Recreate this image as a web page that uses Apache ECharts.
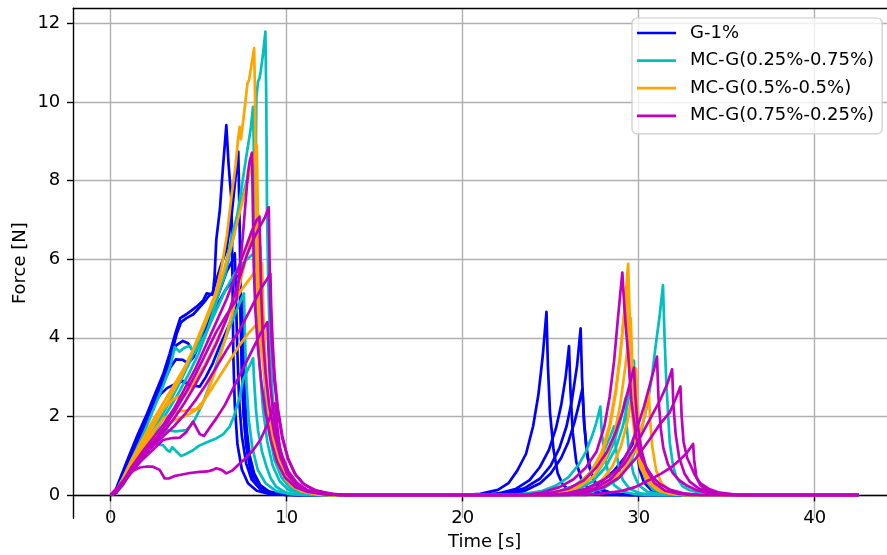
<!DOCTYPE html>
<html><head><meta charset="utf-8">
<script src="https://cdn.jsdelivr.net/npm/echarts@6/dist/echarts.min.js"></script>
<style>html,body{margin:0;padding:0;background:#fff}#c{width:887px;height:555px}</style>
</head><body><div id="c"></div>
<script>
// ---------- data ----------
const X_TICKS = [0, 10, 20, 30, 40];
const Y_TICKS = [0, 2, 4, 6, 8, 10, 12];
const END_T = 42.5;
const GROUP_NAMES = ['G-1%', 'MC-G(0.25%-0.75%)', 'MC-G(0.5%-0.5%)', 'MC-G(0.75%-0.25%)'];

// G-1% (blue)
const b1p1 = [[0,0],[0.3,0.15],[0.6,0.5],[1.0,0.95],[1.5,1.5],[2.0,2.0],[2.5,2.55],[3.0,3.1],[3.35,3.6],[3.7,4.15],[3.95,4.5],[4.3,4.6],[4.6,4.7],[4.9,4.8],[5.25,4.95],[5.45,5.13],[5.8,5.1],[5.9,5.55],[6.0,6.5],[6.2,7.25],[6.38,8.35],[6.57,9.41],[6.7,8.4],[6.86,7.5],[6.92,5.5],[6.97,3.5],[7.05,2.3],[7.2,1.3],[7.45,0.65],[7.8,0.3],[8.3,0.11],[9.0,0.03],[10,0]];
const b1p2 = [[20,0],[21,0.03],[22,0.13],[22.6,0.3],[23.1,0.62],[23.6,1.05],[24.0,1.75],[24.3,2.55],[24.55,3.55],[24.76,4.66],[24.84,3.3],[24.96,2.1],[25.16,1.15],[25.4,0.55],[25.7,0.25],[26.2,0.09],[27,0.02],[28,0]];
const b2p1 = [[0,0],[0.3,0.13],[0.6,0.45],[1.0,0.88],[1.5,1.4],[2.0,1.92],[2.5,2.45],[3.0,3.0],[3.4,3.5],[3.75,4.1],[4.0,4.4],[4.3,4.5],[4.7,4.6],[5.0,4.75],[5.3,4.9],[5.55,5.05],[5.8,5.15],[6.0,5.47],[6.3,5.9],[6.57,6.23],[6.86,7.08],[7.05,7.9],[7.25,8.74],[7.32,7.0],[7.38,5.2],[7.45,3.4],[7.55,2.1],[7.7,1.25],[7.95,0.6],[8.3,0.25],[8.8,0.09],[9.5,0.02],[10.5,0]];
const b2p2 = [[21.5,0],[22.5,0.05],[23.5,0.17],[24.4,0.42],[25.0,0.75],[25.5,1.2],[25.9,1.75],[26.2,2.4],[26.5,3.3],[26.7,4.24],[26.78,3.0],[26.9,1.8],[27.1,0.95],[27.4,0.42],[27.8,0.16],[28.5,0.04],[29.5,0]];
const b3p1 = [[0,0],[0.3,0.12],[0.6,0.42],[1.0,0.82],[1.5,1.3],[2.0,1.85],[2.5,2.4],[3.0,2.95],[3.35,3.4],[3.7,3.8],[4.1,3.92],[4.4,3.86],[4.68,3.65],[5.0,3.85],[5.4,4.2],[5.8,4.7],[6.2,5.2],[6.6,5.7],[6.9,5.95],[7.05,6.15],[7.12,5.0],[7.2,3.6],[7.3,2.4],[7.45,1.5],[7.7,0.8],[8.0,0.4],[8.5,0.15],[9.2,0.04],[10,0]];
const b3p2 = [[21,0],[22,0.04],[23,0.15],[23.8,0.38],[24.4,0.72],[24.9,1.15],[25.3,1.7],[25.6,2.3],[25.85,3.0],[26.04,3.79],[26.12,2.7],[26.25,1.6],[26.45,0.85],[26.75,0.38],[27.2,0.13],[28,0.03],[29,0]];
const b4p1 = [[0,0],[0.3,0.1],[0.6,0.35],[1.0,0.7],[1.5,1.2],[2.0,1.75],[2.4,2.25],[2.8,2.55],[3.2,2.72],[3.73,2.84],[4.1,2.9],[4.5,2.8],[5.06,2.76],[5.4,3.0],[5.8,3.35],[6.2,3.8],[6.6,4.2],[7.0,4.6],[7.3,4.85],[7.48,4.96],[7.55,3.8],[7.62,2.6],[7.72,1.7],[7.9,1.0],[8.15,0.55],[8.5,0.25],[9.0,0.09],[9.8,0.02],[10.8,0]];
const b4p2 = [[21.5,0],[22.5,0.03],[23.5,0.1],[24.4,0.3],[25.0,0.55],[25.6,0.95],[26.0,1.35],[26.35,1.85],[26.6,2.3],[26.8,2.7],[26.88,2.0],[27.0,1.3],[27.2,0.7],[27.5,0.32],[27.9,0.12],[28.6,0.03],[29.5,0]];
const b5p1 = [[0,0],[0.3,0.11],[0.6,0.4],[1.0,0.78],[1.5,1.25],[2.0,1.75],[2.5,2.3],[3.0,2.85],[3.4,3.25],[3.7,3.45],[4.1,3.44],[4.4,3.35],[4.7,3.5],[5.1,3.9],[5.5,4.3],[6.0,4.8],[6.5,5.2],[6.9,5.45],[7.3,5.6],[7.38,4.5],[7.45,3.2],[7.55,2.1],[7.7,1.3],[7.95,0.7],[8.3,0.3],[8.8,0.11],[9.5,0.03],[10.5,0]];
const b5p2 = [[25,0],[26,0.04],[27,0.14],[27.9,0.35],[28.6,0.62],[29.2,0.95],[29.6,1.25],[29.85,1.5],[29.93,1.05],[30.05,0.65],[30.3,0.32],[30.7,0.13],[31.3,0.04],[32,0]];

// MC-G(0.25%-0.75%) (cyan)
const c1p1 = [[0,0],[0.3,0.06],[0.7,0.3],[1.2,0.7],[1.8,1.15],[2.5,1.6],[3.2,2.1],[3.8,2.55],[4.4,3.05],[5.0,3.6],[5.5,4.2],[6.0,4.9],[6.5,5.8],[7.0,6.8],[7.5,7.6],[7.9,8.3],[8.15,8.6],[8.25,8.9],[8.28,10.13],[8.37,10.52],[8.45,10.6],[8.52,10.77],[8.65,11.2],[8.79,11.79],[8.84,10.0],[8.88,7.3],[8.95,5.5],[9.05,3.8],[9.2,2.5],[9.4,1.5],[9.7,0.8],[10.1,0.35],[10.6,0.13],[11.3,0.04],[12.3,0]];
const c1p2 = [[26,0],[27,0.05],[28,0.17],[28.8,0.4],[29.5,0.8],[30.0,1.35],[30.44,2.2],[30.75,3.0],[30.95,3.75],[31.2,4.6],[31.38,5.34],[31.47,4.0],[31.57,2.84],[31.76,1.35],[31.95,0.75],[32.14,0.45],[32.5,0.22],[32.9,0.12],[33.6,0.04],[34.5,0]];
const c2p1 = [[0,0],[0.3,0.07],[0.7,0.32],[1.2,0.75],[1.8,1.2],[2.5,1.7],[3.2,2.25],[3.8,2.75],[4.4,3.3],[5.0,3.9],[5.5,4.5],[6.0,5.0],[6.5,5.6],[7.0,6.6],[7.33,7.5],[7.7,8.6],[7.95,9.3],[8.09,9.88],[8.15,8.3],[8.22,6.5],[8.32,4.8],[8.45,3.4],[8.65,2.2],[8.9,1.35],[9.2,0.75],[9.6,0.35],[10.1,0.13],[10.8,0.04],[11.8,0]];
const c2p2 = [[24.5,0],[25.5,0.04],[26.5,0.13],[27.4,0.35],[28.1,0.7],[28.7,1.2],[29.1,1.75],[29.4,2.4],[29.6,2.95],[29.73,3.42],[29.8,2.5],[29.92,1.5],[30.12,0.8],[30.4,0.38],[30.8,0.15],[31.5,0.04],[32.5,0]];
const c3p1 = [[0,0],[0.3,0.1],[0.6,0.35],[1.0,0.72],[1.5,1.2],[2.0,1.7],[2.5,2.25],[3.0,2.8],[3.4,3.3],[3.64,3.77],[3.9,3.65],[4.2,3.75],[4.5,3.8],[4.75,3.6],[5.1,3.85],[5.5,4.2],[6.0,4.7],[6.5,5.2],[7.0,5.6],[7.5,5.9],[8.0,6.1],[8.5,6.3],[8.58,5.0],[8.67,3.6],[8.8,2.5],[9.0,1.6],[9.3,0.9],[9.7,0.45],[10.2,0.18],[10.9,0.05],[11.8,0]];
const c3p2 = [[24,0],[25,0.03],[26,0.11],[26.9,0.28],[27.6,0.55],[28.2,0.95],[28.6,1.35],[28.9,1.8],[29.1,2.15],[29.24,2.46],[29.32,1.75],[29.45,1.1],[29.7,0.55],[30.0,0.25],[30.5,0.08],[31.3,0.02],[32,0]];
const c4p1 = [[0,0],[0.3,0.05],[0.7,0.35],[1.27,0.9],[1.8,1.2],[2.3,1.3],[2.7,1.28],[2.97,1.27],[3.2,1.15],[3.35,1.1],[3.5,1.22],[3.75,1.1],[4.0,0.99],[4.3,1.05],[4.68,1.14],[5.0,1.25],[5.5,1.35],[6.0,1.44],[6.4,1.55],[6.76,1.74],[7.0,2.0],[7.33,2.5],[7.52,2.93],[7.8,3.2],[8.09,3.48],[8.15,2.9],[8.25,2.2],[8.37,1.65],[8.6,1.1],[8.85,0.72],[9.1,0.42],[9.4,0.21],[9.9,0.07],[10.6,0.01],[11.5,0]];
const c4p2 = [[22.5,0],[23.5,0.03],[24.5,0.1],[25.3,0.24],[26.0,0.45],[26.6,0.78],[27.0,1.1],[27.35,1.5],[27.6,1.85],[27.82,2.25],[27.9,1.6],[28.05,1.0],[28.3,0.52],[28.6,0.25],[29.1,0.09],[29.8,0.02],[30.5,0]];
const c5p1 = [[0,0],[0.3,0.05],[0.7,0.25],[1.2,0.65],[1.8,1.05],[2.5,1.4],[3.16,1.65],[3.7,1.62],[4.3,1.65],[4.7,1.85],[5.2,2.3],[5.7,2.9],[6.2,3.6],[6.7,4.2],[7.1,4.65],[7.57,5.13],[7.63,4.0],[7.72,2.8],[7.85,1.9],[8.05,1.2],[8.35,0.65],[8.8,0.3],[9.4,0.1],[10.2,0.02],[11,0]];
const c5p2 = [[23.5,0],[24.5,0.03],[25.5,0.1],[26.4,0.25],[27.1,0.5],[27.7,0.85],[28.1,1.2],[28.4,1.5],[28.6,1.75],[28.7,1.2],[28.85,0.75],[29.1,0.38],[29.5,0.15],[30.1,0.04],[31,0]];

// MC-G(0.5%-0.5%) (orange)
const o1p1 = [[0,0],[0.3,0.1],[0.7,0.4],[1.2,0.85],[1.8,1.3],[2.4,1.75],[3.0,2.2],[3.5,2.6],[4.0,3.0],[4.5,3.5],[5.0,4.05],[5.5,4.6],[6.0,5.2],[6.3,5.8],[6.6,6.6],[6.86,7.59],[7.1,8.4],[7.23,9.03],[7.33,9.37],[7.4,9.05],[7.55,9.6],[7.77,10.47],[7.86,10.56],[8.0,10.95],[8.08,11.0],[8.15,11.37],[8.2,10.2],[8.22,8.86],[8.28,6.5],[8.35,5.0],[8.5,3.9],[8.7,3.2],[8.85,2.7],[9.05,1.9],[9.22,1.3],[9.5,0.8],[9.98,0.38],[10.4,0.2],[10.9,0.09],[11.8,0.02],[12.5,0]];
const o1p2 = [[24.5,0],[25.5,0.06],[26.5,0.22],[27.3,0.55],[27.9,1.0],[28.35,1.7],[28.7,2.6],[28.95,3.5],[29.15,4.5],[29.3,5.3],[29.4,5.88],[29.48,4.7],[29.58,3.6],[29.72,2.4],[29.87,1.55],[30.05,1.0],[30.25,0.7],[30.6,0.38],[31.0,0.2],[31.7,0.06],[32.5,0]];
const o2p1 = [[0,0],[0.3,0.08],[0.7,0.35],[1.2,0.75],[1.8,1.2],[2.4,1.6],[3.0,1.95],[3.73,2.12],[4.3,2.15],[5.06,2.2],[5.4,2.5],[5.9,3.1],[6.4,3.8],[6.9,4.6],[7.4,5.5],[7.9,6.4],[8.2,6.9],[8.45,7.1],[8.5,6.0],[8.58,4.6],[8.7,3.5],[8.88,2.6],[9.1,1.75],[9.35,1.1],[9.7,0.6],[10.2,0.28],[10.8,0.1],[11.6,0.03],[12.5,0]];
const o2p2 = [[24.5,0],[25.5,0.07],[26.5,0.25],[27.3,0.6],[27.9,1.1],[28.35,1.8],[28.7,2.7],[28.95,3.6],[29.15,4.5],[29.3,5.3],[29.38,4.2],[29.5,3.0],[29.65,2.0],[29.85,1.2],[30.1,0.7],[30.5,0.35],[31.0,0.15],[31.8,0.04],[32.5,0]];
const o3p1 = [[0,0],[0.3,0.09],[0.7,0.4],[1.2,0.85],[1.8,1.35],[2.4,1.8],[3.0,2.2],[3.6,2.45],[4.3,2.59],[4.9,2.97],[5.4,3.35],[5.9,3.8],[6.4,4.3],[6.9,4.8],[7.4,5.2],[7.9,5.5],[8.3,5.75],[8.6,5.9],[8.66,4.8],[8.75,3.7],[8.88,2.8],[9.05,2.0],[9.3,1.3],[9.6,0.8],[10.0,0.42],[10.5,0.18],[11.2,0.06],[12,0]];
const o3p2 = [[25,0],[26,0.04],[27,0.14],[27.9,0.38],[28.5,0.72],[29.0,1.25],[29.35,1.85],[29.6,2.5],[29.75,2.9],[29.85,3.22],[29.92,2.4],[30.05,1.5],[30.25,0.85],[30.55,0.42],[31.0,0.16],[31.7,0.04],[32.5,0]];
const o4p1 = [[0,0],[0.3,0.1],[0.7,0.42],[1.2,0.9],[1.8,1.4],[2.4,1.9],[3.0,2.35],[3.6,2.8],[4.2,3.25],[4.8,3.8],[5.4,4.4],[6.0,5.1],[6.5,5.8],[7.0,6.6],[7.5,7.5],[7.9,8.2],[8.15,8.6],[8.3,8.9],[8.36,7.3],[8.42,5.6],[8.52,4.3],[8.7,3.2],[8.9,2.4],[9.15,1.6],[9.45,0.95],[9.85,0.5],[10.4,0.2],[11.1,0.07],[12,0]];
const o4p2 = [[24.5,0],[25.5,0.05],[26.5,0.18],[27.4,0.45],[28.1,0.9],[28.6,1.5],[28.95,2.3],[29.25,3.3],[29.45,4.1],[29.55,4.5],[29.63,3.4],[29.75,2.3],[29.95,1.3],[30.2,0.7],[30.6,0.3],[31.2,0.1],[32,0.02],[33,0]];
const o5p1 = [[0,0],[0.3,0.07],[0.7,0.33],[1.2,0.72],[1.8,1.15],[2.4,1.5],[3.0,1.75],[3.6,1.9],[4.2,2.0],[4.8,2.15],[5.3,2.4],[5.8,2.75],[6.3,3.1],[6.8,3.45],[7.3,3.8],[7.8,4.1],[8.3,4.35],[8.7,4.5],[8.76,3.6],[8.85,2.8],[9.0,2.1],[9.2,1.5],[9.45,1.0],[9.8,0.6],[10.3,0.28],[10.9,0.1],[11.7,0.03],[12.5,0]];
const o5p2 = [[25.5,0],[26.5,0.04],[27.5,0.13],[28.4,0.33],[29.1,0.62],[29.6,0.98],[30.0,1.45],[30.3,1.95],[30.45,2.3],[30.57,2.63],[30.65,1.9],[30.78,1.2],[31.0,0.62],[31.3,0.3],[31.8,0.11],[32.5,0.03],[33.3,0]];

// MC-G(0.75%-0.25%) (magenta)
const m1p1 = [[0,0],[0.3,0.07],[0.7,0.32],[1.2,0.7],[1.8,1.05],[2.4,1.35],[3.0,1.7],[3.6,2.1],[4.2,2.55],[4.8,3.05],[5.4,3.6],[6.0,4.15],[6.6,4.6],[7.14,4.96],[7.35,5.8],[7.52,6.66],[7.8,8.2],[7.9,8.5],[8.03,8.71],[8.08,7.2],[8.13,5.8],[8.22,4.7],[8.35,3.8],[8.55,2.9],[8.8,2.1],[9.1,1.4],[9.45,0.85],[9.9,0.45],[10.5,0.2],[11.2,0.08],[12.2,0.02],[13,0]];
const m1p2 = [[23.5,0],[24.5,0.06],[25.5,0.2],[26.3,0.4],[27.0,0.7],[27.6,1.1],[28.05,1.75],[28.35,2.5],[28.6,3.4],[28.82,4.5],[28.97,5.2],[29.07,5.66],[29.17,4.9],[29.28,4.2],[29.4,3.6],[29.58,2.4],[29.87,1.45],[30.1,1.0],[30.44,0.7],[30.8,0.45],[31.2,0.28],[31.8,0.13],[32.6,0.04],[33.5,0]];
const m2p1 = [[0,0],[0.3,0.06],[0.7,0.3],[1.2,0.65],[1.8,1.0],[2.4,1.3],[3.0,1.6],[3.6,1.95],[4.2,2.35],[4.8,2.8],[5.4,3.3],[6.0,3.85],[6.6,4.5],[7.1,5.2],[7.7,6.06],[8.1,6.5],[8.47,6.83],[8.75,7.05],[8.98,7.32],[9.02,6.2],[9.06,4.96],[9.15,3.9],[9.3,2.9],[9.5,2.1],[9.75,1.45],[10.1,0.9],[10.5,0.52],[11.0,0.27],[11.7,0.11],[12.6,0.03],[13.5,0]];
const m2p2 = [[25,0],[26,0.05],[27,0.16],[28,0.38],[28.9,0.68],[29.5,1.2],[29.87,1.65],[30.3,2.25],[30.63,2.8],[30.9,3.25],[31.04,3.52],[31.12,2.5],[31.25,1.7],[31.4,1.2],[31.65,0.8],[31.95,0.55],[32.3,0.38],[32.7,0.25],[33.3,0.12],[34.2,0.03],[35,0]];
const m3p1 = [[0,0],[0.3,0.06],[0.7,0.28],[1.2,0.6],[1.8,0.95],[2.4,1.25],[3.0,1.5],[3.6,1.75],[4.2,2.05],[4.8,2.4],[5.4,2.8],[6.0,3.25],[6.6,3.7],[7.33,4.2],[7.8,4.6],[8.2,4.95],[8.6,5.3],[8.9,5.5],[9.07,5.64],[9.12,4.8],[9.2,3.9],[9.32,3.0],[9.5,2.2],[9.75,1.5],[10.05,0.95],[10.45,0.55],[10.9,0.3],[11.5,0.13],[12.3,0.04],[13.2,0]];
const m3p2 = [[26,0],[27,0.06],[28,0.2],[28.9,0.45],[29.87,0.95],[30.6,1.4],[31.2,1.8],[31.76,2.1],[32.1,2.45],[32.37,2.76],[32.44,2.0],[32.55,1.35],[32.75,0.95],[32.95,0.75],[33.2,0.5],[33.5,0.3],[34.0,0.15],[34.6,0.06],[35.5,0.01],[36.5,0]];
const m4p1 = [[0,0],[0.3,0.07],[0.7,0.33],[1.2,0.72],[1.8,1.1],[2.4,1.45],[3.0,1.8],[3.6,2.2],[4.2,2.7],[4.8,3.2],[5.4,3.8],[6.0,4.4],[6.6,5.0],[7.1,5.6],[7.6,6.2],[8.0,6.7],[8.3,7.0],[8.45,7.08],[8.5,6.1],[8.56,5.0],[8.65,4.0],[8.8,3.1],[9.0,2.3],[9.3,1.55],[9.65,0.95],[10.1,0.5],[10.7,0.22],[11.4,0.08],[12.3,0.02],[13,0]];
const m4p2 = [[24,0],[25,0.05],[26,0.16],[26.9,0.38],[27.6,0.7],[28.2,1.1],[28.7,1.6],[29.1,2.15],[29.45,2.75],[29.73,3.24],[29.8,2.6],[29.92,1.85],[30.15,1.15],[30.45,0.65],[30.9,0.3],[31.5,0.11],[32.3,0.03],[33,0]];
const m5p1 = [[0,0],[0.11,0.04],[0.5,0.25],[0.89,0.47],[1.3,0.62],[1.65,0.7],[2.0,0.72],[2.4,0.72],[2.78,0.64],[3.07,0.42],[3.3,0.42],[3.6,0.48],[3.92,0.51],[4.5,0.56],[5.06,0.59],[5.5,0.6],[5.81,0.64],[6.0,0.68],[6.3,0.64],[6.57,0.55],[6.9,0.62],[7.33,0.8],[7.7,0.95],[8.09,1.14],[8.5,1.4],[8.85,1.74],[9.1,2.05],[9.32,2.33],[9.38,2.2],[9.45,1.8],[9.6,1.23],[9.8,0.85],[10.0,0.55],[10.35,0.35],[10.7,0.21],[11.3,0.09],[12,0.03],[13,0]];
const m5p2 = [[27,0],[28,0.04],[29,0.1],[29.8,0.2],[30.6,0.38],[31.3,0.55],[31.9,0.72],[32.4,0.92],[32.75,1.08],[33.09,1.3],[33.15,0.9],[33.28,0.45],[33.5,0.25],[33.85,0.13],[34.6,0.03],[35.5,0]];
const m6p1 = [[0,0],[0.3,0.05],[0.7,0.28],[1.2,0.6],[1.8,0.9],[2.4,1.15],[2.97,1.4],[3.5,1.45],[3.92,1.46],[4.3,1.6],[4.68,1.87],[5.06,1.55],[5.3,1.5],[5.6,1.7],[6.0,1.95],[6.5,2.3],[7.0,2.75],[7.5,3.2],[8.0,3.65],[8.5,4.1],[8.9,4.4],[8.97,3.6],[9.05,2.9],[9.2,2.2],[9.4,1.6],[9.7,1.05],[10.1,0.6],[10.6,0.3],[11.2,0.12],[12,0.03],[13,0]];
const m6p2 = [[25.5,0],[26.5,0.05],[27.5,0.17],[28.4,0.4],[29.2,0.8],[29.7,1.15],[30.06,1.45],[30.6,1.9],[31.2,2.4],[31.6,2.8],[31.9,3.2],[31.97,2.3],[32.1,1.55],[32.3,0.95],[32.6,0.55],[32.9,0.34],[33.4,0.17],[33.9,0.09],[34.7,0.02],[35.5,0]];

const GROUP_CURVES = [
  [[b1p1,b1p2],[b2p1,b2p2],[b3p1,b3p2],[b4p1,b4p2],[b5p1,b5p2]],
  [[c1p1,c1p2],[c2p1,c2p2],[c3p1,c3p2],[c4p1,c4p2],[c5p1,c5p2]],
  [[o1p1,o1p2],[o2p1,o2p2],[o3p1,o3p2],[o4p1,o4p2],[o5p1,o5p2]],
  [[m1p1,m1p2],[m2p1,m2p2],[m3p1,m3p2],[m4p1,m4p2],[m5p1,m5p2],[m6p1,m6p2]]
];

// ---------- styling ----------
const COLORS = ['#0000ff', '#00bfbf', '#ffa500', '#bf00bf'];
const FONT = 'DejaVu Sans';
const X_MIN = -2.125, X_MAX = 44.625, Y_MIN = -0.59, Y_MAX = 12.39;
const GRID_TOP = 8.1, GRID_H = 510.1;
// pixel distance from bottom of plot to the y=0 line (x axis drawn at zero)
const ZERO_OFFSET = (0 - Y_MIN) / (Y_MAX - Y_MIN) * GRID_H;

const series = [];
GROUP_CURVES.forEach((curves, gi) => {
  curves.forEach(([p1, p2]) => {
    series.push({
      type: 'line',
      name: GROUP_NAMES[gi],
      data: p1.concat(p2, [[END_T, 0]]),
      symbol: 'none',
      showSymbol: false,
      smooth: false,
      color: COLORS[gi],
      lineStyle: { width: 2.7, color: COLORS[gi], join: 'round' },
      emphasis: { disabled: true },
      silent: true
    });
  });
});

const chart = echarts.init(document.getElementById('c'), null, { renderer: 'canvas' });
chart.setOption({
  animation: false,
  backgroundColor: '#ffffff',
  grid: { left: 73.3, top: GRID_TOP, width: 822.8, height: GRID_H, containLabel: false, outerBoundsMode: 'none' },
  xAxis: [{
    type: 'value', min: X_MIN, max: X_MAX, position: 'bottom', offset: -ZERO_OFFSET,
    name: 'Time [s]', nameLocation: 'middle', nameGap: 38, nameMoveOverlap: false,
    nameTextStyle: { fontSize: 18, fontFamily: FONT, color: '#000' },
    axisLine: { show: true, onZero: false, lineStyle: { color: '#000', width: 1.4 } },
    axisTick: { show: true, inside: false, length: 6.3, lineStyle: { color: '#000', width: 1.4 }, customValues: X_TICKS },
    axisLabel: { show: true, margin: 14, fontSize: 18, fontFamily: FONT, color: '#000', customValues: X_TICKS, formatter: v => String(v) },
    splitLine: { show: true, lineStyle: { color: '#b0b0b0', width: 1.4 } }
  }, {
    type: 'value', min: X_MIN, max: X_MAX, position: 'top',
    axisLine: { show: true, onZero: false, lineStyle: { color: '#000', width: 1.4 } },
    axisTick: { show: false }, axisLabel: { show: false }, splitLine: { show: false }
  }],
  yAxis: [{
    type: 'value', min: Y_MIN, max: Y_MAX,
    name: 'Force [N]', nameLocation: 'middle', nameGap: 44, nameRotate: 90, nameMoveOverlap: false,
    nameTextStyle: { fontSize: 18, fontFamily: FONT, color: '#000' },
    axisLine: { show: true, onZero: false, lineStyle: { color: '#000', width: 1.4 } },
    axisTick: { show: true, inside: false, length: 6.3, lineStyle: { color: '#000', width: 1.4 }, customValues: Y_TICKS },
    axisLabel: { show: true, margin: 13, fontSize: 18, fontFamily: FONT, color: '#000', customValues: Y_TICKS, formatter: v => String(v) },
    splitLine: { show: true, lineStyle: { color: '#b0b0b0', width: 1.4 } }
  }],
  legend: {
    show: true, orient: 'vertical', left: 632, top: 18,
    data: GROUP_NAMES.map(n => ({ name: n, icon: 'rect' })),
    selectedMode: false,
    itemWidth: 39, itemHeight: 2.7, itemGap: 9.6,
    padding: [6, 8, 9, 5],
    backgroundColor: 'rgba(255,255,255,0.8)',
    borderColor: '#cccccc', borderWidth: 1.2, borderRadius: 5,
    formatter: n => '{t|' + n + '}',
    textStyle: {
      fontSize: 18, fontFamily: FONT, color: '#000',
      rich: { t: { fontSize: 18, fontFamily: FONT, color: '#000', padding: [0, 0, 0, 9], lineHeight: 18 } }
    },
    z: 10
  },
  series: series
});
</script></body></html>
